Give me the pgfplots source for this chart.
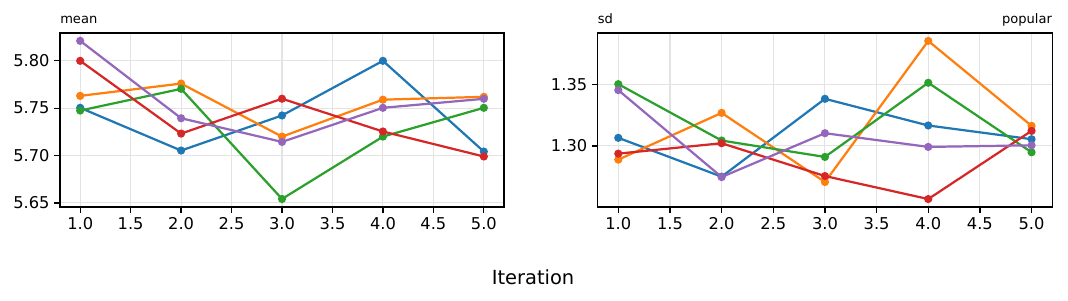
\documentclass[border=0pt]{standalone}
\usepackage{pgfplots}
\pgfplotsset{compat=1.18}
\usepackage{fontspec}
\setmainfont{DejaVu Sans}
\definecolor{tabblue}{HTML}{1F77B4}
\definecolor{taborange}{HTML}{FF7F0E}
\definecolor{tabgreen}{HTML}{2CA02C}
\definecolor{tabred}{HTML}{D62728}
\definecolor{tabpurple}{HTML}{9467BD}
\definecolor{gridgray}{HTML}{E3E3E3}
\pgfplotsset{
  myaxis/.style={
    scale only axis,
    height=125.3pt,
    xmin=0.8, xmax=5.2,
    xtick={1,1.5,...,5},
    xticklabel style={/pgf/number format/.cd, fixed, fixed zerofill, precision=1},
    tick label style={font=\fontsize{11.7}{14}\selectfont},
    /pgf/number format/assume math mode=true,
    tick align=outside,
    major tick length=4pt,
    xtick pos=bottom, ytick pos=left,
    every tick/.style={black, line width=0.9pt},
    axis line style={line width=0.9pt},
    grid=major,
    major grid style={gridgray, line width=0.8pt},
    clip=false,
    every axis plot/.append style={line width=1.6pt, mark=*, mark size=2.1pt},
  }
}
\begin{document}
\begin{tikzpicture}[x=1pt,y=1pt]
\path[use as bounding box] (0,0) rectangle (768.96,216.72);
\begin{axis}[myaxis, at={(43.2pt,67.68pt)}, anchor=south west,
  width=319.7pt,
  ymin=5.6457, ymax=5.8294,
  ytick={5.65,5.70,5.75,5.80},
  yticklabel style={/pgf/number format/.cd, fixed, fixed zerofill, precision=2},
]
\addplot[tabblue, mark options={fill=tabblue}] coordinates {(1,5.7504) (2,5.7053) (3,5.7423) (4,5.8000) (5,5.7042)};
\addplot[taborange, mark options={fill=taborange}] coordinates {(1,5.7630) (2,5.7760) (3,5.7200) (4,5.7590) (5,5.7620)};
\addplot[tabgreen, mark options={fill=tabgreen}] coordinates {(1,5.7475) (2,5.7704) (3,5.6542) (4,5.7200) (5,5.7504)};
\addplot[tabred, mark options={fill=tabred}] coordinates {(1,5.8000) (2,5.7232) (3,5.7600) (4,5.7254) (5,5.6990)};
\addplot[tabpurple, mark options={fill=tabpurple}] coordinates {(1,5.8211) (2,5.7394) (3,5.7144) (4,5.7504) (5,5.7599)};
\node[anchor=base west, font=\fontsize{9.4}{11}\selectfont, yshift=7pt, inner sep=0pt] at (rel axis cs:0,1) {mean};
\end{axis}
\begin{axis}[myaxis, at={(430.3pt,67.68pt)}, anchor=south west,
  width=327.3pt,
  ymin=1.2501, ymax=1.3923,
  ytick={1.30,1.35},
  yticklabel style={/pgf/number format/.cd, fixed, fixed zerofill, precision=2},
]
\addplot[tabblue, mark options={fill=tabblue}] coordinates {(1,1.3066) (2,1.2749) (3,1.3385) (4,1.3167) (5,1.3055)};
\addplot[taborange, mark options={fill=taborange}] coordinates {(1,1.2888) (2,1.3270) (3,1.2705) (4,1.3858) (5,1.3164)};
\addplot[tabgreen, mark options={fill=tabgreen}] coordinates {(1,1.3505) (2,1.3044) (3,1.2910) (4,1.3516) (5,1.2948)};
\addplot[tabred, mark options={fill=tabred}] coordinates {(1,1.2937) (2,1.3022) (3,1.2754) (4,1.2566) (5,1.3123)};
\addplot[tabpurple, mark options={fill=tabpurple}] coordinates {(1,1.3456) (2,1.2746) (3,1.3104) (4,1.2992) (5,1.3005)};
\node[anchor=base west, font=\fontsize{9.4}{11}\selectfont, yshift=7pt, inner sep=0pt] at (rel axis cs:0,1) {sd};
\node[anchor=base east, font=\fontsize{9.4}{11}\selectfont, yshift=7pt, inner sep=0pt] at (rel axis cs:1,1) {popular};
\end{axis}
\node[font=\fontsize{14}{16}\selectfont] at (383.8,17.3) {Iteration};
\end{tikzpicture}
\end{document}
